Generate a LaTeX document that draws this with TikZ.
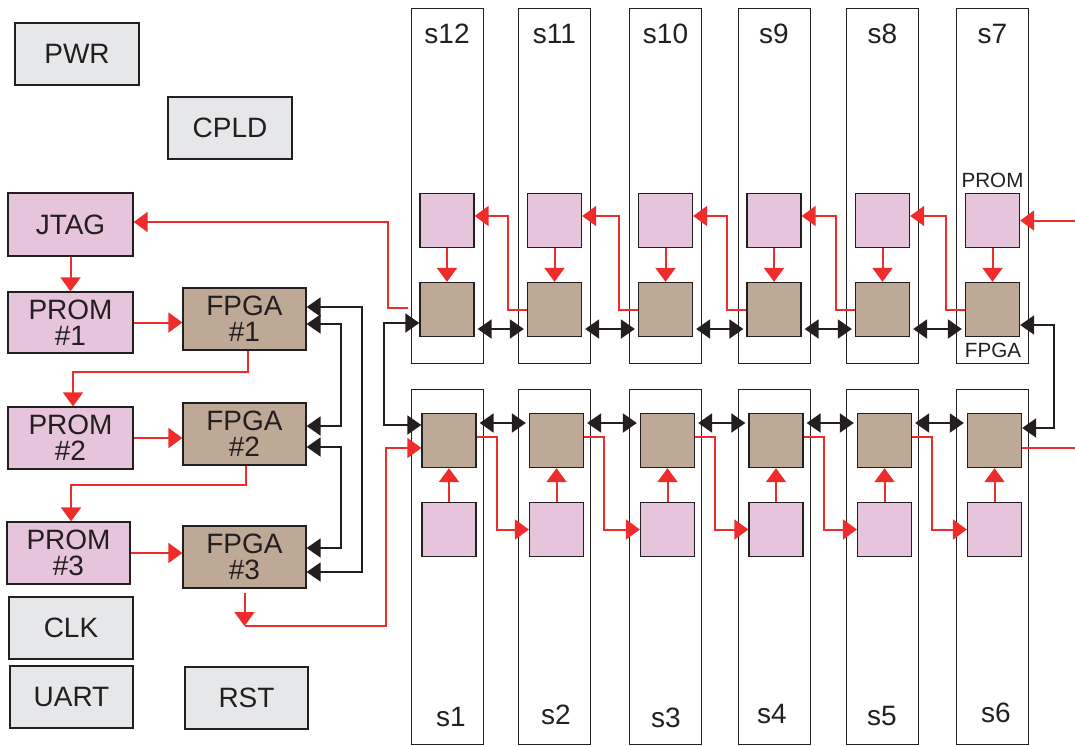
\documentclass[tikz,border=0pt]{standalone}
\usepackage{fontspec}
\setmainfont{Liberation Sans}
\usetikzlibrary{arrows.meta}
\definecolor{pinkc}{HTML}{E5C4DC}
\definecolor{tanc}{HTML}{BEA996}
\definecolor{grayc}{HTML}{E6E7E8}
\definecolor{redc}{HTML}{EE2C2C}
\definecolor{blk}{HTML}{231F20}
\begin{document}
\begin{tikzpicture}[x=1pt,y=-1pt,
  box/.style={draw=blk, line width=1.3pt, minimum width=124pt, minimum height=62pt, align=center, font=\fontsize{28}{26}\selectfont, text=blk, inner sep=0pt},
  gbox/.style={box, fill=grayc},
  pbox/.style={box, fill=pinkc},
  fbox/.style={box, fill=tanc, minimum width=123pt},
  slotbox/.style={draw=blk, line width=1pt, minimum width=72pt, minimum height=355pt, inner sep=0pt},
  sq/.style={draw=blk, line width=1.3pt, minimum size=54pt, inner sep=0pt},
  lbl/.style={font=\fontsize{28}{28}\selectfont, text=blk, inner sep=0pt},
  slbl/.style={font=\fontsize{20.6}{21}\selectfont, text=blk, inner sep=0pt},
  rarr/.style={draw=redc, line width=2pt, -{Triangle[length=14pt,width=20pt]}},
  rline/.style={draw=redc, line width=2pt},
  barr/.style={draw=blk, line width=2pt, {Triangle[length=14pt,width=19pt]}-{Triangle[length=14pt,width=19pt]}}
]
\useasboundingbox (0,0) rectangle (1075,745);

% left boxes
\node[gbox] (pwr) at (77,54) {PWR};
\node[gbox] (cpld) at (230,128) {CPLD};
\node[pbox, minimum width=125pt, minimum height=63pt] (jtag) at (70.5,224.5) {JTAG};
\node[pbox, minimum width=125pt, minimum height=61pt] (prom1) at (70.5,322.5) {PROM\\\#1};
\node[fbox] (fpga1) at (244.5,319) {FPGA\\\#1};
\node[pbox, minimum width=125pt] (prom2) at (70.5,438) {PROM\\\#2};
\node[fbox] (fpga2) at (244.5,434) {FPGA\\\#2};
\node[pbox, minimum width=123pt] (prom3) at (68.5,553) {PROM\\\#3};
\node[fbox] (fpga3) at (244.5,557) {FPGA\\\#3};
\node[gbox] (clk) at (71,628) {CLK};
\node[gbox, minimum width=123pt] (uart) at (71.5,697) {UART};
\node[gbox, minimum width=123pt] (rst) at (246.5,698) {RST};

% slots
\foreach \c [count=\i] in {447,554.5,665.5,774,882.5,992.5} {
  \node[slotbox] (ts\i) at (\c,185.5) {};
  \node[slotbox] (bs\i) at (\c,566.5) {};
  \node[sq, fill=pinkc] (tp\i) at (\c,220.5) {};
  \node[sq, fill=tanc] (tf\i) at (\c,309.5) {};
  \node[sq, fill=tanc] (bf\i) at (\c+2,440.5) {};
  \node[sq, fill=pinkc] (bp\i) at (\c+2,529.5) {};
}
% slot labels
\foreach \c/\t [count=\i] in {447/s12,554.5/s11,665.5/s10,774/s9,882.5/s8,992.5/s7}
  \node[lbl] (tl\i) at (\c,34) {\t};
\foreach \c/\yy/\t [count=\i] in {451/717/s1,556/715/s2,666/718/s3,772/714/s4,882/716/s5,996/713/s6}
  \node[lbl] (bl\i) at (\c,\yy) {\t};
\node[slbl] (promlbl) at (992.5,180) {PROM};
\node[slbl] (fpgalbl) at (993,350) {FPGA};

% top chain
\coordinate (rin) at (1075,220.5);
\draw[rarr] (rin) -- (tp6.east);
\foreach \i in {1,...,6} \draw[rarr] (tp\i.south) -- (tf\i.north);
\foreach \i [evaluate=\i as \j using int(\i+1)] in {1,...,5} {
  \draw[rarr] (tf\j.west) -- ++(-19,0) |- ([yshift=4.5pt]tp\i.east);
  \draw[barr, shorten <=3pt, shorten >=3pt] ([yshift=-19.5pt]tf\i.east) -- ([yshift=-19.5pt]tf\j.west);
}
% bottom chain
\foreach \i in {1,...,6} \draw[rarr] (bp\i.north) -- (bf\i.south);
\foreach \i [evaluate=\i as \j using int(\i+1)] in {1,...,5} {
  \draw[rarr] ([yshift=3.5pt]bf\i.east) -- ++(20,0) |- (bp\j.west);
  \draw[barr, shorten <=3pt, shorten >=3pt] ([yshift=17.5pt]bf\i.east) -- ([yshift=17.5pt]bf\j.west);
}
\coordinate (rout) at (1075,448);
\draw[rline] ([yshift=-7.5pt]bf6.east) -- (rout);
% right black link s7 - s6
\draw[barr] ([yshift=-15.5pt]tf6.east) -- ++(34,0) |- ([yshift=12.5pt]bf6.east);
% left black link s12 - s1
\draw[barr] ([yshift=-13.5pt]tf1.west) -- ++(-35,0) |- ([yshift=15.5pt]bf1.west);
% JTAG link
\coordinate (jt) at (408,308);
\draw[rarr] (jt) -- (388,308) |- ([yshift=2.5pt]jtag.east);

% left red chain
\draw[rarr] (jtag.south) -- (prom1.north);
\draw[rarr] (prom1.east) -- (prom1.east -| fpga1.west);
\draw[rarr] ([xshift=3.5pt]fpga1.south) -- ++(0,21) -| ([xshift=2.5pt]prom2.north);
\draw[rarr] (prom2.east) -- (prom2.east -| fpga2.west);
\draw[rarr] ([xshift=1.5pt]fpga2.south) -- ++(0,19) -| ([xshift=2.5pt]prom3.north);
\draw[rarr] (prom3.east) -- (prom3.east -| fpga3.west);
\coordinate (f3d) at (244.5,626);
\draw[rarr] ([yshift=-4pt]fpga3.south) -- (f3d);
\draw[rarr] (f3d) -- (386,626) |- ([yshift=-7.5pt]bf1.west);

% left black links
\draw[barr] ([yshift=12pt]fpga1.east) -- ++(55,0) |- ([yshift=-15pt]fpga3.east);
\draw[barr] ([yshift=-5pt]fpga1.east) -- ++(34,0) |- ([yshift=8pt]fpga2.east);
\draw[barr] ([yshift=-13pt]fpga2.east) -- ++(34,0) |- ([yshift=9pt]fpga3.east);
\end{tikzpicture}
\end{document}
